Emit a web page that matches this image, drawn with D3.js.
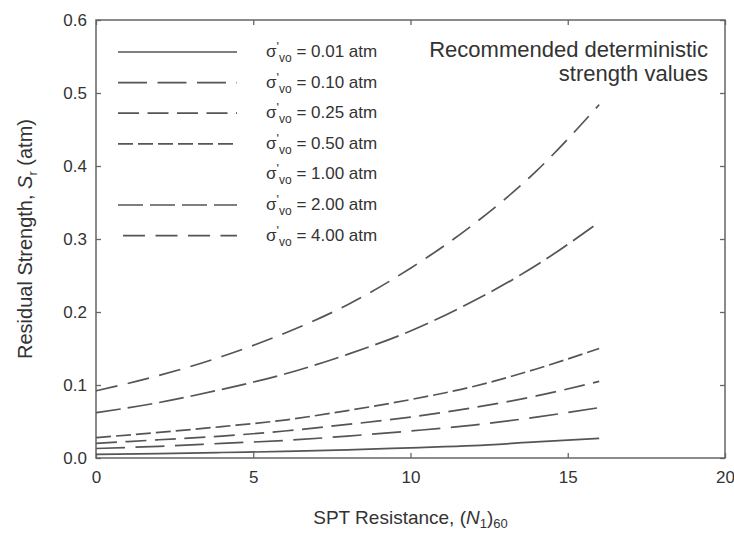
<!DOCTYPE html>
<html>
<head>
<meta charset="utf-8">
<script src="https://cdn.jsdelivr.net/npm/d3@7"></script>
<style>
  body { margin: 0; background: #fff; }
  svg { font-family: "Liberation Sans", Arial, sans-serif; }
  .axis text { font-size: 17px; fill: #333; }
  .axis line { stroke: #666; stroke-width: 1.3; }
  .axis path { display: none; }
</style>
</head>
<body>
<div id="chart"></div>
<script>
var w = 734,
    h = 535,
    m = [20, 9, 77, 96]; // top right bottom left

// SPT blow counts (N1)60 where the curves were read
var spt = [0, 2, 4, 6, 8, 10, 12, 14, 16];

// effective vertical stress labels (atm)
var stressLabels = ["0.01", "0.10", "0.25", "0.50", "1.00", "2.00", "4.00"];

// residual strength Sr (atm)
var sr001 = [0.005, 0.006, 0.0075, 0.009, 0.011, 0.014, 0.017, 0.022, 0.027];
var sr010 = [0.013, 0.016, 0.020, 0.024, 0.030, 0.037, 0.045, 0.056, 0.069];
var sr025 = [0.020, 0.025, 0.030, 0.037, 0.046, 0.056, 0.069, 0.085, 0.105];
var sr050 = [0.028, 0.035, 0.043, 0.052, 0.065, 0.080, 0.098, 0.122, 0.150];
var sr100 = null; // no line visible in the figure
var sr200 = [0.062, 0.076, 0.094, 0.115, 0.142, 0.174, 0.215, 0.264, 0.323];
var sr400 = [0.092, 0.113, 0.139, 0.171, 0.210, 0.260, 0.320, 0.393, 0.484];

var seriesValues = [sr001, sr010, sr025, sr050, sr100, sr200, sr400];
var dashes = ["none", "29,10.5", "21,8.5", "15,5", "none", "25,7", "22,10.5"];

var xTicks = [0, 5, 10, 15, 20];
var yTicks = [0, 0.1, 0.2, 0.3, 0.4, 0.5, 0.6];

var iw = w - m[1] - m[3],
    ih = h - m[0] - m[2];

var x = d3.scaleLinear().domain([0, 20]).range([0, iw]);
var y = d3.scaleLinear().domain([0, 0.6]).range([ih, 0]);

var svg = d3.select("#chart").append("svg")
    .attr("width", w)
    .attr("height", h);

var g = svg.append("g")
    .attr("transform", "translate(" + m[3] + "," + m[0] + ")");

// axes, ticks pointing inward on all four sides
g.append("g").attr("class", "axis")
    .attr("transform", "translate(0," + ih + ")")
    .call(d3.axisBottom(x).tickValues(xTicks).tickSize(-5).tickPadding(13).tickFormat(d3.format("d")));
g.append("g").attr("class", "axis")
    .call(d3.axisTop(x).tickValues(xTicks).tickSize(-5).tickFormat(""));
g.append("g").attr("class", "axis")
    .call(d3.axisLeft(y).tickValues(yTicks).tickSize(-5).tickPadding(9).tickFormat(d3.format(".1f")));
g.append("g").attr("class", "axis")
    .attr("transform", "translate(" + iw + ",0)")
    .call(d3.axisRight(y).tickValues(yTicks).tickSize(-5).tickFormat(""));

g.append("rect")
    .attr("width", iw)
    .attr("height", ih)
    .attr("fill", "none")
    .attr("stroke", "#666")
    .attr("stroke-width", 1.5);

var line = d3.line()
    .x(function(d, i) { return x(spt[i]); })
    .y(function(d) { return y(d); })
    .curve(d3.curveMonotoneX);

seriesValues.forEach(function(vals, k) {
  if (!vals) return;
  g.append("path")
      .attr("d", line(vals))
      .attr("fill", "none")
      .attr("stroke", "#555")
      .attr("stroke-width", 1.7)
      .attr("stroke-dasharray", dashes[k]);
});

// legend
var leg = svg.append("g");
stressLabels.forEach(function(lab, k) {
  var ly = 52 + k * 30.6;
  if (seriesValues[k]) {
    leg.append("line")
        .attr("x1", k === 6 ? 123 : 118).attr("x2", 237)
        .attr("y1", ly).attr("y2", ly)
        .attr("stroke", "#555")
        .attr("stroke-width", 1.7)
        .attr("stroke-dasharray", dashes[k]);
  }
  var t = leg.append("text")
      .attr("x", 266)
      .attr("y", ly + 5)
      .attr("font-size", 17)
      .attr("fill", "#333");
  t.append("tspan").text("σ");
  t.append("tspan").attr("dy", -6).attr("font-size", 13).text("'");
  t.append("tspan").attr("dy", 11).attr("font-size", 12).text("vo");
  t.append("tspan").attr("dy", -5).text(" = " + lab + " atm");
});

svg.append("text")
    .attr("x", 708).attr("y", 57)
    .attr("text-anchor", "end")
    .attr("font-size", 22)
    .attr("fill", "#333")
    .text("Recommended deterministic");
svg.append("text")
    .attr("x", 708).attr("y", 81)
    .attr("text-anchor", "end")
    .attr("font-size", 22)
    .attr("fill", "#333")
    .text("strength values");

// axis titles
var xt = svg.append("text")
    .attr("x", m[3] + iw / 2)
    .attr("y", 524)
    .attr("text-anchor", "middle")
    .attr("font-size", 19)
    .attr("fill", "#333");
xt.append("tspan").text("SPT Resistance, (");
xt.append("tspan").attr("font-style", "italic").text("N");
xt.append("tspan").attr("dy", 4).attr("font-size", 13).text("1");
xt.append("tspan").attr("dy", -4).text(")");
xt.append("tspan").attr("dy", 4).attr("font-size", 13).text("60");

var yt = svg.append("text")
    .attr("transform", "translate(32," + (m[0] + ih / 2) + ") rotate(-90)")
    .attr("text-anchor", "middle")
    .attr("font-size", 20)
    .attr("fill", "#333");
yt.append("tspan").text("Residual Strength, ");
yt.append("tspan").attr("font-style", "italic").text("S");
yt.append("tspan").attr("dy", 5).attr("font-size", 13).text("r");
yt.append("tspan").attr("dy", -5).text(" (atm)");
</script>
</body>
</html>
